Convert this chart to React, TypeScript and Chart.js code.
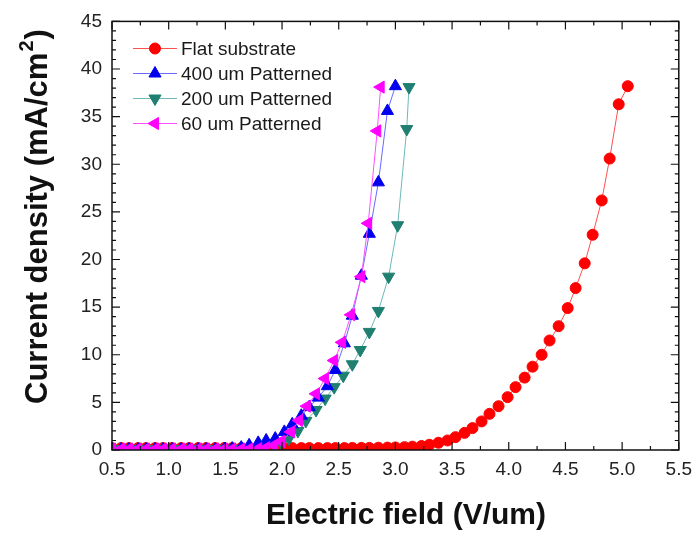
import React, { useEffect, useRef } from 'react';
import { Chart, registerables } from 'chart.js';
import { drawPoint } from 'chart.js/helpers';

Chart.register(...registerables);

const FONT = "'Liberation Sans', Arial, Helvetica, sans-serif";

// ---- data ----
const seriesLabels = ['Flat substrate', '400 um Patterned', '200 um Patterned', '60 um Patterned'];

const flatX = [0.50, 0.58, 0.65, 0.73, 0.80, 0.88, 0.95, 1.03, 1.11, 1.18, 1.26, 1.33, 1.41, 1.49, 1.56, 1.64, 1.71, 1.79, 1.86, 1.94,
  2.02, 2.09, 2.17, 2.24, 2.32, 2.40, 2.47, 2.55, 2.62, 2.70, 2.77, 2.85, 2.93, 3.00, 3.08, 3.15, 3.23, 3.30, 3.38, 3.46,
  3.53, 3.61, 3.68, 3.76, 3.83, 3.91, 3.99, 4.06, 4.14, 4.21, 4.29, 4.36, 4.44, 4.52, 4.59, 4.67, 4.74, 4.82, 4.89, 4.97, 5.05];
const flatY = [0.2, 0.2, 0.2, 0.2, 0.2, 0.2, 0.2, 0.2, 0.2, 0.2, 0.2, 0.2, 0.2, 0.2, 0.2, 0.2, 0.2, 0.2, 0.2, 0.2,
  0.2, 0.2, 0.2, 0.2, 0.2, 0.2, 0.2, 0.2, 0.22, 0.22, 0.22, 0.24, 0.25, 0.27, 0.30, 0.35, 0.42, 0.55, 0.76, 1.0,
  1.35, 1.8, 2.3, 3.0, 3.8, 4.6, 5.55, 6.6, 7.6, 8.75, 10.0, 11.5, 13.0, 14.9, 17.0, 19.6, 22.6, 26.2, 30.6, 36.3, 38.2];

const p400X = [0.50, 0.58, 0.65, 0.73, 0.80, 0.88, 0.95, 1.03, 1.11, 1.18, 1.26, 1.33, 1.41, 1.49, 1.56, 1.64, 1.71, 1.79, 1.86, 1.94,
  2.02, 2.09, 2.17, 2.24, 2.32, 2.40, 2.47, 2.55, 2.62, 2.70, 2.77, 2.85, 2.93, 3.00];
const p400Y = [0.05, 0.05, 0.05, 0.05, 0.05, 0.05, 0.05, 0.05, 0.05, 0.05, 0.05, 0.05, 0.05, 0.1, 0.15, 0.25, 0.5, 0.75, 1.0, 1.2,
  1.9, 2.7, 3.6, 4.5, 5.5, 6.7, 8.4, 11.2, 14.1, 18.3, 22.7, 28.1, 35.6, 38.2];

const p200X = [0.50, 0.58, 0.65, 0.73, 0.80, 0.88, 0.95, 1.03, 1.11, 1.18, 1.26, 1.33, 1.41, 1.49, 1.56, 1.64, 1.71, 1.79, 1.86, 1.93,
  1.99, 2.06, 2.14, 2.21, 2.30, 2.38, 2.46, 2.54, 2.62, 2.69, 2.77, 2.85, 2.94, 3.02, 3.10, 3.12];
const p200Y = [0.1, 0.1, 0.1, 0.1, 0.1, 0.1, 0.1, 0.1, 0.1, 0.1, 0.1, 0.1, 0.1, 0.1, 0.1, 0.1, 0.15, 0.2, 0.3, 0.5,
  0.8, 1.2, 2.0, 3.05, 4.2, 5.4, 6.6, 7.8, 9.0, 10.5, 12.4, 14.6, 18.2, 23.6, 33.7, 38.1];

const p60X = [0.50, 0.58, 0.65, 0.73, 0.80, 0.88, 0.95, 1.03, 1.11, 1.18, 1.26, 1.33, 1.41, 1.49, 1.56, 1.64, 1.71, 1.79, 1.86, 1.93,
  1.99, 2.08, 2.15, 2.22, 2.30, 2.38, 2.46, 2.53, 2.61, 2.70, 2.76, 2.84, 2.87];
const p60Y = [0.1, 0.1, 0.1, 0.1, 0.1, 0.1, 0.1, 0.1, 0.1, 0.1, 0.1, 0.1, 0.1, 0.1, 0.1, 0.1, 0.1, 0.15, 0.25, 0.5,
  0.9, 1.9, 3.1, 4.6, 5.9, 7.5, 9.4, 11.3, 14.2, 18.2, 23.8, 33.5, 38.1];

const xTickValues = [0.5, 1.0, 1.5, 2.0, 2.5, 3.0, 3.5, 4.0, 4.5, 5.0, 5.5];
const xTickLabels = ['0.5', '1.0', '1.5', '2.0', '2.5', '3.0', '3.5', '4.0', '4.5', '5.0', '5.5'];
const xMinorTicks = [0.75, 1.25, 1.75, 2.25, 2.75, 3.25, 3.75, 4.25, 4.75, 5.25];
const yTickValues = [0, 5, 10, 15, 20, 25, 30, 35, 40, 45];
const yTickLabels = ['0', '5', '10', '15', '20', '25', '30', '35', '40', '45'];
const yMinorTicks = [1, 2, 3, 4, 6, 7, 8, 9, 11, 12, 13, 14, 16, 17, 18, 19, 21, 22, 23, 24, 26, 27, 28, 29, 31, 32, 33, 34, 36, 37, 38, 39, 41, 42, 43, 44];

const xTitle = 'Electric field (V/um)';
const yTitleMain = 'Current density (mA/cm';
const yTitleSup = '2';
const yTitleEnd = ')';

const zip = (xs: number[], ys: number[]) => xs.map((x, i) => ({ x, y: ys[i] }));

const framePlugin = {
  id: 'frame',
  afterDraw(chart: any) {
    const { ctx, chartArea: a, scales } = chart;
    const xs = scales.x, ys = scales.y;
    ctx.save();
    ctx.strokeStyle = '#111';
    ctx.lineWidth = 1.5;
    ctx.strokeRect(a.left, a.top, a.right - a.left, a.bottom - a.top);
    ctx.lineWidth = 1.2;
    ctx.beginPath();
    const tickX = (v: number, len: number) => {
      const px = xs.getPixelForValue(v);
      ctx.moveTo(px, a.bottom); ctx.lineTo(px, a.bottom - len);
      ctx.moveTo(px, a.top); ctx.lineTo(px, a.top + len);
    };
    const tickY = (v: number, len: number) => {
      const py = ys.getPixelForValue(v);
      ctx.moveTo(a.left, py); ctx.lineTo(a.left + len, py);
      ctx.moveTo(a.right, py); ctx.lineTo(a.right - len, py);
    };
    xTickValues.forEach((v) => tickX(v, 8));
    xMinorTicks.forEach((v) => tickX(v, 4));
    yTickValues.forEach((v) => tickY(v, 8));
    yMinorTicks.forEach((v) => tickY(v, 4));
    ctx.stroke();

    // axis titles
    ctx.fillStyle = '#111';
    ctx.font = `bold 30px ${FONT}`;
    ctx.textAlign = 'center';
    ctx.textBaseline = 'middle';
    ctx.fillText(xTitle, 406, 516);

    ctx.translate(38, 404);
    ctx.rotate(-Math.PI / 2);
    ctx.textAlign = 'left';
    ctx.font = `bold 31px ${FONT}`;
    ctx.fillText(yTitleMain, 0, 0);
    const w1 = ctx.measureText(yTitleMain).width;
    ctx.font = `bold 20px ${FONT}`;
    ctx.fillText(yTitleSup, w1 + 1, -11);
    const w2 = ctx.measureText(yTitleSup).width;
    ctx.font = `bold 31px ${FONT}`;
    ctx.fillText(yTitleEnd, w1 + w2 + 2, 0);
    ctx.restore();

    // legend
    ctx.save();
    chart.data.datasets.forEach((ds: any, i: number) => {
      const y = 48.5 + i * 25;
      ctx.strokeStyle = ds.borderColor;
      ctx.lineWidth = 1;
      ctx.beginPath();
      ctx.moveTo(133, y); ctx.lineTo(177, y);
      ctx.stroke();
      ctx.fillStyle = ds.pointBackgroundColor;
      ctx.strokeStyle = ds.pointBackgroundColor;
      drawPoint(ctx, { pointStyle: ds.pointStyle, rotation: ds.pointRotation || 0, radius: ds.pointRadius, borderWidth: 1 }, 155, y);
      ctx.fillStyle = '#1a1a1a';
      ctx.font = `19px ${FONT}`;
      ctx.textAlign = 'left';
      ctx.textBaseline = 'middle';
      ctx.fillText(ds.label, 181, y + 1);
    });
    ctx.restore();
  },
};

export default function App() {
  const ref = useRef<HTMLCanvasElement>(null);
  useEffect(() => {
    const canvas = ref.current;
    if (!canvas) return;
    const chart = new Chart(canvas, {
      type: 'scatter',
      data: {
        datasets: [
          {
            label: seriesLabels[0], data: zip(flatX, flatY), showLine: true, order: 4,
            borderColor: '#ff5050', borderWidth: 1, pointStyle: 'circle', pointRadius: 5.5,
            pointBackgroundColor: '#ff0000', pointBorderColor: '#ff0000', pointBorderWidth: 1,
          },
          {
            label: seriesLabels[1], data: zip(p400X, p400Y), showLine: true, order: 2,
            borderColor: '#6a6aff', borderWidth: 1, pointStyle: 'triangle', pointRadius: 7, pointRotation: 0,
            pointBackgroundColor: '#0000ee', pointBorderColor: '#0000ee', pointBorderWidth: 1,
          },
          {
            label: seriesLabels[2], data: zip(p200X, p200Y), showLine: true, order: 3,
            borderColor: '#6fb8b8', borderWidth: 1, pointStyle: 'triangle', pointRadius: 7, pointRotation: 180,
            pointBackgroundColor: '#1f7f70', pointBorderColor: '#1f7f70', pointBorderWidth: 1,
          },
          {
            label: seriesLabels[3], data: zip(p60X, p60Y), showLine: true, order: 1,
            borderColor: '#ff50ff', borderWidth: 1, pointStyle: 'triangle', pointRadius: 7, pointRotation: -90,
            pointBackgroundColor: '#ff00ff', pointBorderColor: '#ff00ff', pointBorderWidth: 1,
          },
        ] as any,
      },
      options: {
        responsive: false,
        animation: false,
        devicePixelRatio: 1,
        layout: { padding: { left: 0, top: 18, right: 17, bottom: 0 } },
        plugins: { legend: { display: false }, tooltip: { enabled: false } },
        scales: {
          x: {
            type: 'linear', min: 0.5, max: 5.5,
            afterBuildTicks: (s: any) => { s.ticks = xTickValues.map((v) => ({ value: v })); },
            afterFit: (s: any) => { s.height = 90; },
            ticks: {
              autoSkip: false, maxRotation: 0, padding: 8, color: '#222',
              font: { family: FONT, size: 19 },
              callback: (v: any) => xTickLabels[xTickValues.indexOf(Number(v))] ?? '',
            },
            grid: { display: false, drawTicks: false },
            border: { display: false },
          },
          y: {
            type: 'linear', min: 0, max: 45,
            afterBuildTicks: (s: any) => { s.ticks = yTickValues.map((v) => ({ value: v })); },
            afterFit: (s: any) => { s.width = 112; },
            ticks: {
              autoSkip: false, padding: 10, color: '#222',
              font: { family: FONT, size: 19 },
              callback: (v: any) => yTickLabels[yTickValues.indexOf(Number(v))] ?? '',
            },
            grid: { display: false, drawTicks: false },
            border: { display: false },
          },
        },
      } as any,
      plugins: [framePlugin],
    });
    return () => chart.destroy();
  }, []);
  return (
    <div style={{ position: 'fixed', left: 0, top: 0, width: 700, height: 540, background: '#fff' }}>
      <canvas ref={ref} width={700} height={540} style={{ display: 'block', width: 700, height: 540 }} />
    </div>
  );
}
